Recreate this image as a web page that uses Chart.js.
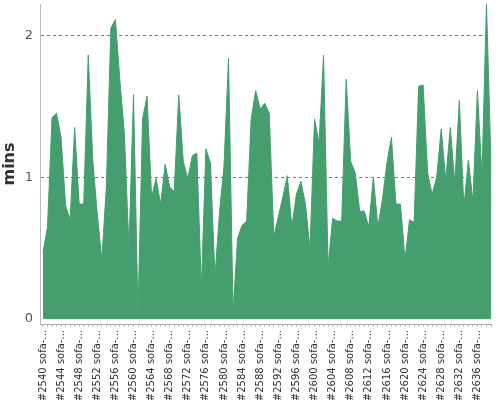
<!DOCTYPE html>
<html lang="en">
<head>
  <meta charset="UTF-8">
  <title>Build durations</title>
  <script src="https://cdn.jsdelivr.net/npm/chart.js"></script>
  <style>
    body {
      margin: 0;
      background: #fff;
    }
    .container {
      width: 500px;
      height: 400px;
    }
  </style>
</head>
<body>
  <div class="container">
    <canvas id="buildChart"></canvas>
  </div>

  <script>
    const builds = Array.from({ length: 100 }, (_, i) => 2540 + i);
    const labels = builds.map(n => `#${n} sofa-...`);

    const durations = [
      0.47, 0.65, 1.42, 1.45, 1.28, 0.80, 0.70, 1.35, 0.81, 0.81,
      1.86, 1.12, 0.74, 0.42, 0.93, 2.05, 2.11, 1.68, 1.30, 0.50,
      1.58, 0.04, 1.41, 1.57, 0.86, 0.99, 0.81, 1.09, 0.93, 0.90,
      1.58, 1.11, 0.99, 1.15, 1.17, 0.22, 1.20, 1.10, 0.30, 0.75,
      1.08, 1.84, 0.05, 0.57, 0.66, 0.69, 1.41, 1.61, 1.48, 1.52,
      1.45, 0.58, 0.72, 0.86, 1.01, 0.65, 0.88, 0.97, 0.81, 0.49,
      1.41, 1.24, 1.86, 0.37, 0.71, 0.69, 0.69, 1.69, 1.11, 1.03,
      0.76, 0.76, 0.65, 1.00, 0.65, 0.84, 1.10, 1.28, 0.81, 0.81,
      0.42, 0.70, 0.68, 1.64, 1.65, 1.03, 0.88, 1.00, 1.34, 0.98,
      1.35, 0.96, 1.54, 0.79, 1.12, 0.83, 1.61, 1.01, 2.22, 1.10
    ];

    const yTicks = [0, 1, 2];

    const ctx = document.getElementById('buildChart').getContext('2d');

    new Chart(ctx, {
      type: 'line',
      data: {
        datasets: [
          {
            label: 'Duration (mins)',
            data: durations.map((v, i) => ({ x: i, y: v })),
            borderColor: '#459e6e',
            backgroundColor: '#459e6e',
            borderWidth: 1,
            pointRadius: 0,
            tension: 0,
            fill: 'origin'
          }
        ]
      },
      options: {
        responsive: true,
        maintainAspectRatio: false,
        animation: false,
        layout: {
          padding: { top: 4, right: 9, left: 0, bottom: 0 }
        },
        plugins: {
          legend: { display: false },
          tooltip: { enabled: false }
        },
        scales: {
          x: {
            type: 'linear',
            min: -0.66,
            max: builds.length - 1,
            afterBuildTicks: scale => {
              scale.ticks = builds.map((_, i) => ({ value: i }));
            },
            afterFit: scale => {
              scale.height = 76;
              scale.paddingLeft = 0;
              scale.paddingRight = 0;
            },
            border: { display: true, color: '#aaa' },
            grid: {
              display: true,
              drawOnChartArea: false,
              drawTicks: true,
              tickLength: 3,
              color: '#bbb'
            },
            ticks: {
              autoSkip: false,
              minRotation: 90,
              maxRotation: 90,
              padding: 3,
              color: '#333',
              font: { family: 'DejaVu Sans', size: 10 },
              callback: value => (value % 4 === 0 ? labels[value] : '')
            }
          },
          y: {
            min: -0.035,
            max: 2.22,
            afterBuildTicks: scale => {
              scale.ticks = yTicks.map(v => ({ value: v }));
            },
            afterFit: scale => {
              scale.width = 40;
              scale.paddingTop = 0;
              scale.paddingBottom = 0;
            },
            border: { display: true, color: '#bbb', dash: [3, 3] },
            grid: {
              drawTicks: false,
              color: ctx => (ctx.tick && ctx.tick.value === 0 ? 'rgba(0,0,0,0)' : '#777'),
              lineWidth: 1
            },
            ticks: {
              padding: 7,
              color: '#555',
              font: { family: 'DejaVu Sans', size: 13 }
            },
            title: {
              display: true,
              text: 'mins',
              color: '#333',
              padding: { top: 0, bottom: 2 },
              font: { family: 'DejaVu Sans', size: 16, weight: 'bold' }
            }
          }
        }
      }
    });
  </script>
</body>
</html>
